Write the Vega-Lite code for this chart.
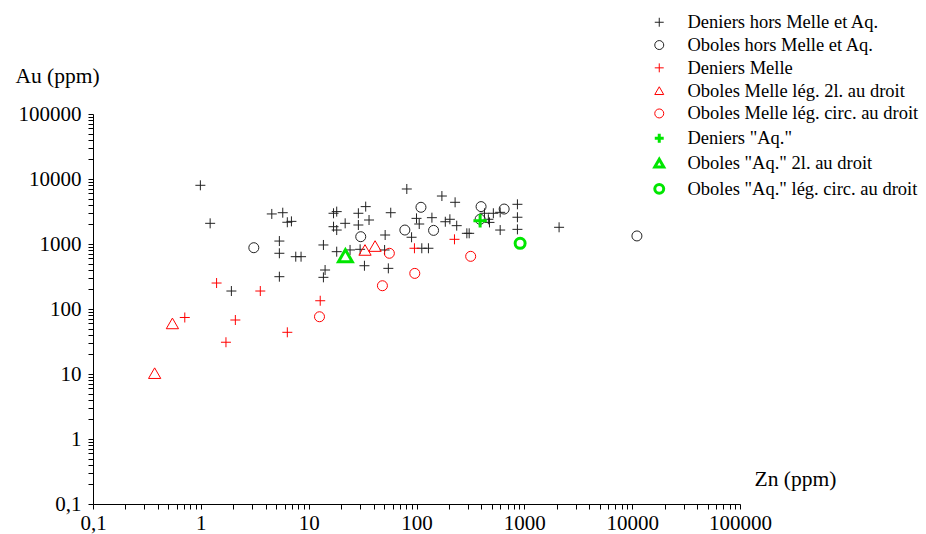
{
  "$schema": "https://vega.github.io/schema/vega-lite/v6.json",
  "width": 647,
  "height": 390,
  "autosize": "none",
  "padding": {"left": 93, "top": 114, "right": 186, "bottom": 30},
  "background": "white",
  "config": {
    "view": {"stroke": null},
    "font": "Liberation Serif",
    "axis": {"grid": false, "domainColor": "black", "tickColor": "black", "labelColor": "black", "titleColor": "black", "labelFont": "Liberation Serif", "titleFont": "Liberation Serif", "labelFontSize": 21, "titleFontSize": 21.5, "titleFontWeight": "normal", "tickSize": 5, "labelOverlap": false, "labelFlush": false}
  },
  "data": {
    "values": [
      {"g": "Deniers hors Melle et Aq.", "zn": 0.99, "au": 8000},
      {"g": "Deniers hors Melle et Aq.", "zn": 1.22, "au": 2080},
      {"g": "Deniers hors Melle et Aq.", "zn": 4.55, "au": 2900},
      {"g": "Deniers hors Melle et Aq.", "zn": 5.75, "au": 3030},
      {"g": "Deniers hors Melle et Aq.", "zn": 6.34, "au": 2160},
      {"g": "Deniers hors Melle et Aq.", "zn": 6.92, "au": 2230},
      {"g": "Deniers hors Melle et Aq.", "zn": 5.35, "au": 1110},
      {"g": "Deniers hors Melle et Aq.", "zn": 5.35, "au": 720},
      {"g": "Deniers hors Melle et Aq.", "zn": 7.59, "au": 638},
      {"g": "Deniers hors Melle et Aq.", "zn": 8.5, "au": 638},
      {"g": "Deniers hors Melle et Aq.", "zn": 5.35, "au": 314},
      {"g": "Deniers hors Melle et Aq.", "zn": 1.92, "au": 189},
      {"g": "Deniers hors Melle et Aq.", "zn": 81.3, "au": 7020},
      {"g": "Deniers hors Melle et Aq.", "zn": 172, "au": 5470},
      {"g": "Deniers hors Melle et Aq.", "zn": 228, "au": 4380},
      {"g": "Deniers hors Melle et Aq.", "zn": 863, "au": 4080},
      {"g": "Deniers hors Melle et Aq.", "zn": 863, "au": 2580},
      {"g": "Deniers hors Melle et Aq.", "zn": 863, "au": 1680},
      {"g": "Deniers hors Melle et Aq.", "zn": 597, "au": 1640},
      {"g": "Deniers hors Melle et Aq.", "zn": 100, "au": 2480},
      {"g": "Deniers hors Melle et Aq.", "zn": 106, "au": 2030},
      {"g": "Deniers hors Melle et Aq.", "zn": 139, "au": 2540},
      {"g": "Deniers hors Melle et Aq.", "zn": 185, "au": 2200},
      {"g": "Deniers hors Melle et Aq.", "zn": 204, "au": 2400},
      {"g": "Deniers hors Melle et Aq.", "zn": 236, "au": 1915},
      {"g": "Deniers hors Melle et Aq.", "zn": 90, "au": 1270},
      {"g": "Deniers hors Melle et Aq.", "zn": 293, "au": 1460},
      {"g": "Deniers hors Melle et Aq.", "zn": 308, "au": 1460},
      {"g": "Deniers hors Melle et Aq.", "zn": 112, "au": 860},
      {"g": "Deniers hors Melle et Aq.", "zn": 129, "au": 860},
      {"g": "Deniers hors Melle et Aq.", "zn": 54.8, "au": 422},
      {"g": "Deniers hors Melle et Aq.", "zn": 32.9, "au": 463},
      {"g": "Deniers hors Melle et Aq.", "zn": 51.2, "au": 1375},
      {"g": "Deniers hors Melle et Aq.", "zn": 50.6, "au": 809},
      {"g": "Deniers hors Melle et Aq.", "zn": 18.2, "au": 762},
      {"g": "Deniers hors Melle et Aq.", "zn": 24.2, "au": 810},
      {"g": "Deniers hors Melle et Aq.", "zn": 30, "au": 828},
      {"g": "Deniers hors Melle et Aq.", "zn": 13.7, "au": 966},
      {"g": "Deniers hors Melle et Aq.", "zn": 14.2, "au": 398},
      {"g": "Deniers hors Melle et Aq.", "zn": 13.7, "au": 307},
      {"g": "Deniers hors Melle et Aq.", "zn": 17, "au": 2970},
      {"g": "Deniers hors Melle et Aq.", "zn": 18.2, "au": 3150},
      {"g": "Deniers hors Melle et Aq.", "zn": 17, "au": 1846},
      {"g": "Deniers hors Melle et Aq.", "zn": 18.2, "au": 1640},
      {"g": "Deniers hors Melle et Aq.", "zn": 21.8, "au": 2080},
      {"g": "Deniers hors Melle et Aq.", "zn": 28.9, "au": 2970},
      {"g": "Deniers hors Melle et Aq.", "zn": 28.9, "au": 1960},
      {"g": "Deniers hors Melle et Aq.", "zn": 33.8, "au": 3760},
      {"g": "Deniers hors Melle et Aq.", "zn": 36.3, "au": 2340},
      {"g": "Deniers hors Melle et Aq.", "zn": 57.7, "au": 3030},
      {"g": "Deniers hors Melle et Aq.", "zn": 2100, "au": 1807},
      {"g": "Deniers hors Melle et Aq.", "zn": 427, "au": 2970},
      {"g": "Deniers hors Melle et Aq.", "zn": 464, "au": 2400},
      {"g": "Deniers hors Melle et Aq.", "zn": 475, "au": 2150},
      {"g": "Deniers hors Melle et Aq.", "zn": 516, "au": 2970},
      {"g": "Deniers hors Melle et Aq.", "zn": 597, "au": 3070},
      {"g": "Oboles hors Melle et Aq.", "zn": 3.1, "au": 877},
      {"g": "Oboles hors Melle et Aq.", "zn": 397, "au": 3760},
      {"g": "Oboles hors Melle et Aq.", "zn": 650, "au": 3450},
      {"g": "Oboles hors Melle et Aq.", "zn": 110, "au": 3670},
      {"g": "Oboles hors Melle et Aq.", "zn": 78, "au": 1640},
      {"g": "Oboles hors Melle et Aq.", "zn": 144, "au": 1620},
      {"g": "Oboles hors Melle et Aq.", "zn": 30.4, "au": 1295},
      {"g": "Oboles hors Melle et Aq.", "zn": 389, "au": 2400},
      {"g": "Oboles hors Melle et Aq.", "zn": 11070, "au": 1330},
      {"g": "Deniers Melle", "zn": 1.4, "au": 251},
      {"g": "Deniers Melle", "zn": 3.56, "au": 189},
      {"g": "Deniers Melle", "zn": 0.71, "au": 74},
      {"g": "Deniers Melle", "zn": 2.09, "au": 67.7},
      {"g": "Deniers Melle", "zn": 6.34, "au": 43.8},
      {"g": "Deniers Melle", "zn": 1.71, "au": 30.8},
      {"g": "Deniers Melle", "zn": 225, "au": 1180},
      {"g": "Deniers Melle", "zn": 95.7, "au": 860},
      {"g": "Deniers Melle", "zn": 12.8, "au": 134},
      {"g": "Oboles Melle lég. 2l. au droit", "zn": 0.545, "au": 60},
      {"g": "Oboles Melle lég. 2l. au droit", "zn": 0.373, "au": 10.3},
      {"g": "Oboles Melle lég. 2l. au droit", "zn": 33.3, "au": 810},
      {"g": "Oboles Melle lég. 2l. au droit", "zn": 41.3, "au": 930},
      {"g": "Oboles Melle lég. circ. au droit", "zn": 318, "au": 646},
      {"g": "Oboles Melle lég. circ. au droit", "zn": 96.4, "au": 353},
      {"g": "Oboles Melle lég. circ. au droit", "zn": 48.3, "au": 228},
      {"g": "Oboles Melle lég. circ. au droit", "zn": 56, "au": 720},
      {"g": "Oboles Melle lég. circ. au droit", "zn": 12.6, "au": 76},
      {"g": "Deniers \"Aq.\"", "zn": 389, "au": 2285},
      {"g": "Oboles \"Aq.\" 2l. au droit", "zn": 21.9, "au": 661},
      {"g": "Oboles \"Aq.\" lég. circ. au droit", "zn": 914, "au": 1025}
    ]
  },
  "mark": {"type": "point", "filled": false, "opacity": 1},
  "encoding": {
    "x": {
      "field": "zn", "type": "quantitative",
      "scale": {"type": "log", "domain": [0.1, 100000], "nice": false},
      "axis": {
        "values": [0.1,0.2,0.3,0.4,0.5,0.6,0.7,0.8,0.9,1,2,3,4,5,6,7,8,9,10,20,30,40,50,60,70,80,90,100,200,300,400,500,600,700,800,900,1000,2000,3000,4000,5000,6000,7000,8000,9000,10000,20000,30000,40000,50000,60000,70000,80000,90000,100000],
        "labelExpr": "datum.value == 0.1 ? '0,1' : (indexof([1,10,100,1000,10000,100000], datum.value) >= 0 ? format(datum.value, 'd') : '')",
        "labelPadding": 3,
        "title": "Zn (ppm)",
        "titleX": 702, "titleY": -19, "titleAlign": "center", "titleBaseline": "alphabetic", "titleAngle": 0
      }
    },
    "y": {
      "field": "au", "type": "quantitative",
      "scale": {"type": "log", "domain": [0.1, 100000], "nice": false},
      "axis": {
        "values": [0.1,0.2,0.3,0.4,0.5,0.6,0.7,0.8,0.9,1,2,3,4,5,6,7,8,9,10,20,30,40,50,60,70,80,90,100,200,300,400,500,600,700,800,900,1000,2000,3000,4000,5000,6000,7000,8000,9000,10000,20000,30000,40000,50000,60000,70000,80000,90000,100000],
        "labelExpr": "datum.value == 0.1 ? '0,1' : (indexof([1,10,100,1000,10000,100000], datum.value) >= 0 ? format(datum.value, 'd') : '')",
        "labelPadding": 7,
        "title": "Au (ppm)",
        "titleX": -36, "titleY": -32, "titleAlign": "center", "titleBaseline": "alphabetic", "titleAngle": 0
      }
    },
    "color": {
      "field": "g", "type": "nominal",
      "scale": {
        "domain": ["Deniers hors Melle et Aq.", "Oboles hors Melle et Aq.", "Deniers Melle", "Oboles Melle lég. 2l. au droit", "Oboles Melle lég. circ. au droit", "Deniers \"Aq.\"", "Oboles \"Aq.\" 2l. au droit", "Oboles \"Aq.\" lég. circ. au droit"],
        "range": ["#222222", "#222222", "#ff0000", "#ff0000", "#ff0000", "#00e600", "#00e600", "#00e600"]
      },
      "legend": {
        "title": null, "orient": "none", "legendX": 557, "legendY": -101,
        "labelFont": "Liberation Serif", "labelFontSize": 18.5, "labelColor": "black", "labelLimit": 400,
        "labelOffset": 19, "rowPadding": 3.8, "padding": 0, "symbolSize": 80
      }
    },
    "shape": {
      "field": "g", "type": "nominal",
      "scale": {
        "domain": ["Deniers hors Melle et Aq.", "Oboles hors Melle et Aq.", "Deniers Melle", "Oboles Melle lég. 2l. au droit", "Oboles Melle lég. circ. au droit", "Deniers \"Aq.\"", "Oboles \"Aq.\" 2l. au droit", "Oboles \"Aq.\" lég. circ. au droit"],
        "range": ["M-1,0L1,0M0,-1L0,1", "circle", "M-1,0L1,0M0,-1L0,1", "triangle-up", "circle", "M-1,0L1,0M0,-1L0,1", "triangle-up", "circle"]
      }
    },
    "strokeWidth": {
      "field": "g", "type": "nominal",
      "scale": {
        "type": "ordinal",
        "domain": ["Deniers hors Melle et Aq.", "Oboles hors Melle et Aq.", "Deniers Melle", "Oboles Melle lég. 2l. au droit", "Oboles Melle lég. circ. au droit", "Deniers \"Aq.\"", "Oboles \"Aq.\" 2l. au droit", "Oboles \"Aq.\" lég. circ. au droit"],
        "range": [1, 1, 1, 1, 1, 3, 3, 3]
      }
    },
    "size": {
      "condition": [
        {"test": "datum.g == 'Oboles \"Aq.\" 2l. au droit'", "value": 190},
        {"test": "datum.g == 'Deniers \"Aq.\"'", "value": 180},
        {"test": "datum.g == 'Oboles Melle lég. 2l. au droit'", "value": 150}
      ],
      "value": 100
    }
  }
}
